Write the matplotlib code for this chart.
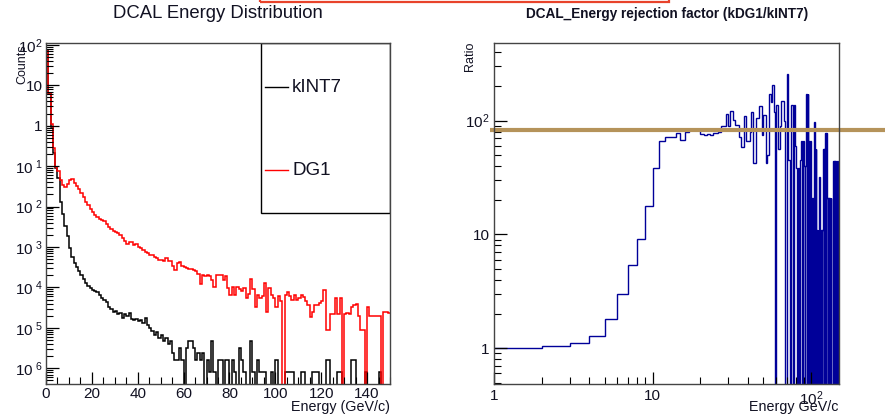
import numpy as np
import matplotlib.pyplot as plt
import matplotlib.transforms as mtransforms
from matplotlib.patches import Rectangle

plt.rcParams["font.family"] = ["Liberation Sans", "DejaVu Sans"]
plt.rcParams["mathtext.fontset"] = "custom"
plt.rcParams["mathtext.rm"] = "Liberation Sans"
plt.rcParams["mathtext.it"] = "Liberation Sans:italic"
plt.rcParams["mathtext.bf"] = "Liberation Sans:bold"

# 1 GeV bins, 0..150 GeV
energy_edges = np.arange(0, 151)

kint7_counts = [
    75, 6.0, 0.95, 0.21, 0.09, 0.05, 0.013, 0.0065, 0.0034, 0.0019,                      # 0-9
    9.2e-4, 5.8e-4, 4.0e-4, 3.2e-4, 2.5e-4, 2.0e-4, 1.6e-4, 1.3e-4, 1.1e-4, 9.8e-5,       # 10-19
    8.5e-5, 8.0e-5, 7.6e-5, 6.6e-5, 5.6e-5, 5.0e-5, 4.3e-5, 3.3e-5, 3.0e-5, 2.5e-5,       # 20-29
    2.6e-5, 2.2e-5, 2.3e-5, 1.8e-5, 2.2e-5, 2.0e-5, 2.3e-5, 1.7e-5, 1.6e-5, 1.7e-5,       # 30-39
    1.5e-5, 1.6e-5, 1.3e-5, 1.8e-5, 1.2e-5, 1.0e-5, 8.5e-6, 6.5e-6, 8.0e-6, 5.6e-6,       # 40-49
    6.5e-6, 4.8e-6, 5.6e-6, 4.0e-6, 4.8e-6, 2.4e-6, 1.6e-6, 1.6e-6, 3.2e-6, 1.6e-6,       # 50-59
    0, 3.2e-6, 4.8e-6, 4.8e-6, 3.2e-6, 1.6e-6, 2.4e-6, 1.6e-6, 2.4e-6, 0,                 # 60-69
    1.6e-6, 8e-7, 4.8e-6, 8e-7, 0, 1.6e-6, 1.6e-6, 0, 1.6e-6, 1.6e-6,                     # 70-79
    0, 1.6e-6, 8e-7, 0, 3.2e-6, 1.6e-6, 8e-7, 0, 0, 4.8e-6,                               # 80-89
    8e-7, 0, 1.6e-6, 8e-7, 8e-7, 8e-7, 0, 0, 8e-7, 0,                                     # 90-99
    1.6e-6, 0, 0, 0, 8e-7, 8e-7, 8e-7, 8e-7, 0, 0,                                        # 100-109
    0, 8e-7, 8e-7, 0, 0, 0, 8e-7, 8e-7, 8e-7, 0,                                          # 110-119
    0, 0, 1.6e-6, 1.6e-6, 0, 0, 0, 8e-7, 8e-7, 0,                                         # 120-129
    0, 0, 0, 1.6e-6, 1.6e-6, 0, 0, 0, 0, 8e-7,                                            # 130-139
    0, 0, 0, 0, 0, 8e-7, 0, 0, 0, 0,                                                      # 140-149
]

dg1_counts = [
    70, 6.5, 1.1, 0.28, 0.095, 0.075, 0.045, 0.034, 0.031, 0.036,                        # 0-9
    0.046, 0.047, 0.038, 0.032, 0.027, 0.022, 0.017, 0.013, 0.011, 0.0085,                # 10-19
    0.0072, 0.0063, 0.0055, 0.005, 0.0047, 0.0044, 0.0038, 0.0032, 0.0028, 0.0025,        # 20-29
    0.0024, 0.0022, 0.002, 0.0017, 0.0014, 0.0012, 0.0013, 0.00135, 0.0011, 0.0012,       # 30-39
    0.001, 9.5e-4, 8.5e-4, 7.6e-4, 7.0e-4, 6.5e-4, 6.2e-4, 5.5e-4, 5.2e-4, 4.8e-4,        # 40-49
    4.9e-4, 4.6e-4, 5.2e-4, 4.4e-4, 4.6e-4, 3.3e-4, 2.7e-4, 4.0e-4, 4.2e-4, 3.3e-4,       # 50-59
    3.2e-4, 3.0e-4, 2.9e-4, 2.8e-4, 2.7e-4, 2.6e-4, 2.2e-4, 1.2e-4, 2.0e-4, 1.9e-4,       # 60-69
    2.0e-4, 1.9e-4, 1.5e-4, 1.05e-4, 2.0e-4, 2.0e-4, 2.0e-4, 1.5e-4, 1.9e-4, 9.5e-5,      # 70-79
    6.5e-5, 1.0e-4, 6.5e-5, 1.0e-4, 9.0e-5, 8.0e-5, 9.5e-5, 5.4e-5, 7.0e-5, 1.66e-4,      # 80-89
    9.0e-5, 3.3e-5, 6.5e-5, 5.4e-5, 6.0e-5, 1.26e-4, 2.5e-5, 9.5e-5, 6.5e-5, 5.4e-5,      # 90-99
    3.3e-5, 6.0e-5, 4.5e-5, 0, 6.5e-5, 7.6e-5, 6.0e-5, 4.9e-5, 6.5e-5, 5.0e-5,           # 100-109
    5.4e-5, 6.5e-5, 5.9e-5, 4.5e-5, 3.6e-5, 1.9e-5, 2.5e-5, 3.6e-5, 3.6e-5, 4.2e-5,       # 110-119
    4.6e-5, 8.7e-5, 9e-6, 9e-6, 2.2e-5, 2.2e-5, 5.4e-5, 2.2e-5, 5.4e-5, 0,               # 120-129
    2.2e-5, 2.3e-5, 2.2e-5, 3.3e-5, 3.6e-5, 3.8e-5, 2.0e-5, 9e-6, 9e-6, 0,               # 130-139
    3.3e-5, 2.0e-5, 2.0e-5, 2.0e-5, 2.0e-5, 2.0e-5, 0, 2.5e-5, 2.5e-5, 2.3e-5,           # 140-149
]

# ratio histogram, 1 GeV bins from 1 to 150 GeV
ratio_edges = np.arange(1, 151)
ratio_values = [
    1.0, 1.04, 1.11, 1.28, 1.8, 3.0, 5.4, 9.1, 17.6, 38,          # 1-10
    66, 71, 72, 77, 68, 80, 84, 82, 85, 76,                       # 11-20
    74, 76, 75, 77, 78, 80, 90, 90, 114, 90,                      # 21-30
    121, 101, 92, 92, 72, 58, 58, 109, 66, 66,                    # 31-40
    80, 118, 42, 42, 106, 106, 134, 134, 75, 112,                 # 41-50
    112, 42, 50, 170, 170, 145, 207, 120, 0, 137,                 # 51-60
    137, 56, 56, 90, 148, 148, 100, 0, 0, 254,                    # 61-70
    254, 45, 45, 0, 137, 137, 0, 137, 60, 38,                     # 71-80
    38, 0, 38, 0, 45, 66, 66, 0, 66, 40,                          # 81-90
    0, 40, 170, 0, 170, 66, 0, 66, 66, 0,                         # 91-100
    21, 21, 0, 98, 98, 0, 56, 11, 0, 11,                          # 101-110
    0, 32, 32, 0, 11, 11, 0, 11, 56, 0,                           # 111-120
    56, 0, 78, 0, 78, 21, 0, 21, 0, 21,                           # 121-130
    21, 0, 21, 0, 0, 0, 0, 44, 0, 44,                             # 131-140
    0, 44, 44, 0, 44, 44, 0, 0, 0,                                # 141-149
]
rejection_level = 82

y_labels_left = ["$10^{2}$", "10", "1", r"$10^{\ 1}$", r"$10^{\ 2}$", r"$10^{\ 3}$",
                 r"$10^{\ 4}$", r"$10^{\ 5}$", r"$10^{\ 6}$"]
legend_labels = ["kINT7", "DG1"]

W, H = 885, 419
fig = plt.figure(figsize=(W / 100, H / 100), dpi=100)


def px_axes(x0, y0, x1, y1):
    return fig.add_axes([x0 / W, 1 - y1 / H, (x1 - x0) / W, (y1 - y0) / H])


def root_style(ax):
    for side in ax.spines.values():
        side.set_color("#444444")
        side.set_linewidth(1.0)
    ax.tick_params(which="both", direction="in", top=False, right=False,
                   colors="black", labelsize=11, labelcolor="#111122")
    ax.tick_params(which="major", length=9, width=0.9)
    ax.tick_params(which="minor", length=5, width=0.8)


# left: energy distribution
ax1 = px_axes(46, 43.5, 390, 383.5)
ax1.stairs(kint7_counts, energy_edges, color="black", lw=1.1, baseline=None)
ax1.stairs(dg1_counts, energy_edges, color="red", lw=1.1, baseline=None)
ax1.set_yscale("log")
ax1.set_xticks(np.arange(0, 141, 20))
ax1.set_xticks(np.arange(0, 151, 5), minor=True)
ax1.set_yticks([10.0 ** k for k in range(2, -7, -1)])
ax1.set_yticklabels(y_labels_left)
ax1.set_yticks([m * 10.0 ** k for k in range(-7, 2) for m in range(2, 10)], minor=True)
ax1.set_xlim(0, 150)
ax1.set_ylim(4.2e-7, 108)
root_style(ax1)
ax1.tick_params(axis="x", pad=2.5)
ax1.tick_params(axis="y", pad=2.5)

# legend box
leg_left = (261 - 46) / 344
leg_bottom = (383.5 - 213) / 340
ax1.add_patch(Rectangle((leg_left, leg_bottom), 1 - leg_left, 1 - leg_bottom,
                        transform=ax1.transAxes, fill=False, edgecolor="black", lw=1.0))
for label, color, ypx in zip(legend_labels, ["black", "red"], [87, 170]):
    yf = 1 - ypx / H
    fig.add_artist(plt.Line2D([265 / W, 288 / W], [yf, yf], color=color, lw=1.0))
    fig.text(292 / W, yf, label, fontsize=13.5, ha="left", va="center", color="#111122")

fig.text(218 / W, 1 - 14 / H, "DCAL Energy Distribution", fontsize=13.3,
         ha="center", va="center", color="#111122")
fig.text(22 / W, 1 - 44 / H, "Counts", rotation=90, fontsize=9, ha="center", va="top",
         color="#111122")
fig.text(390 / W, 1 - 407 / H, "Energy (GeV/c)", fontsize=10.3, ha="right", va="center",
         color="#111122")

# right: rejection factor
ax2 = px_axes(494, 43.5, 839, 383.5)
ax2.stairs(ratio_values, ratio_edges, color="#000099", lw=1.0, baseline=None)
ax2.set_xscale("log")
ax2.set_yscale("log")
ax2.set_xticks([1, 10, 100])
ax2.set_xticklabels(["1", "10", "$10^{2}$"])
ax2.set_xticks([m * 10.0 ** k for k in range(0, 3) for m in range(2, 10) if m * 10.0 ** k < 150],
               minor=True)
ax2.set_yticks([1, 10, 100])
ax2.set_yticklabels(["1", "10", "$10^{2}$"])
ax2.set_yticks([m * 10.0 ** k for k in range(-1, 3) for m in range(2, 10)], minor=True)
ax2.set_xlim(1, 150)
ax2.set_ylim(0.49, 475)
root_style(ax2)
ax2.tick_params(axis="x", pad=4)
ax2.tick_params(axis="y", pad=3)

blend = mtransforms.blended_transform_factory(fig.transFigure, ax2.transData)
ax2.plot([490 / W, 1.0], [rejection_level, rejection_level], transform=blend,
         color="#B5935A", lw=3.0, clip_on=False, solid_capstyle="butt")

fig.text(667 / W, 1 - 14 / H, "DCAL_Energy rejection factor (kDG1/kINT7)", fontsize=9.8,
         fontweight="bold", ha="center", va="center", color="#111122")
fig.text(470 / W, 1 - 42 / H, "Ratio", rotation=90, fontsize=9, ha="center", va="top",
         color="#111122")
fig.text(838 / W, 1 - 407 / H, "Energy GeV/c", fontsize=10.3, ha="right", va="center",
         color="#111122")

# frame from the pasted screenshot
fig.add_artist(Rectangle((260 / W, 1 - 2.5 / H), (669 - 260) / W, 0.05,
                         transform=fig.transFigure, fill=False, edgecolor="#E8432B", lw=1.6))

fig.savefig("out.png", dpi=100)
